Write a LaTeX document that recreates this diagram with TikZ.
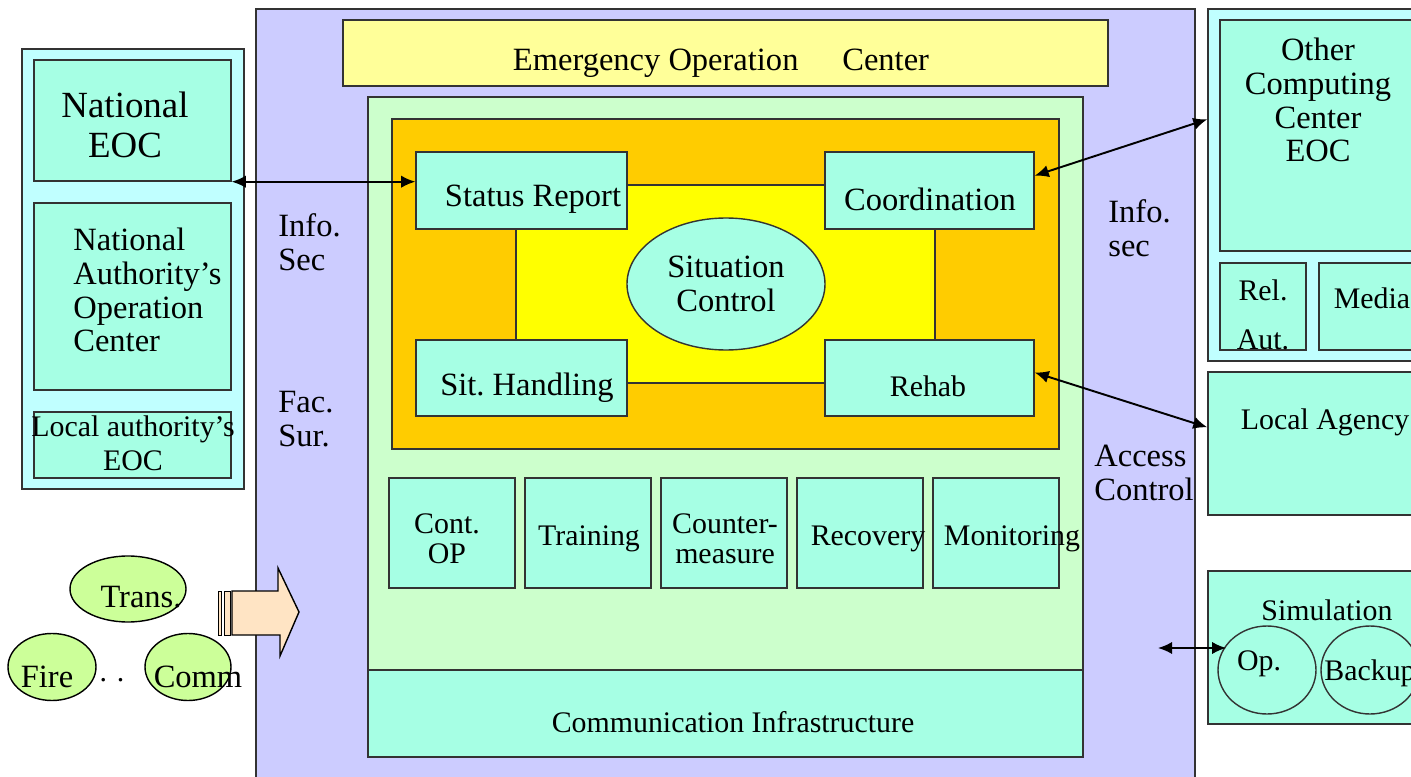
\documentclass[tikz,border=0pt]{standalone}
\usepackage{fontspec}
\setmainfont{Liberation Serif}
\usetikzlibrary{shapes.geometric,fit,arrows.meta}

\definecolor{aqua}{RGB}{166,255,228}
\definecolor{paleaqua}{RGB}{192,255,255}
\definecolor{lilac}{RGB}{204,204,255}
\definecolor{mint}{RGB}{204,255,204}
\definecolor{amber}{RGB}{255,204,0}
\definecolor{lemon}{RGB}{255,255,0}
\definecolor{cream}{RGB}{255,255,153}
\definecolor{lime}{RGB}{204,255,153}
\definecolor{peach}{RGB}{255,228,196}

\begin{document}
\begin{tikzpicture}[x=0.02cm,y=-0.02cm,
        every node/.style={inner sep=0pt,align=center,font=\fa},
        box/.style={draw=black!80,line width=0.8pt,fill=aqua},
        blob/.style={ellipse,draw,line width=0.8pt,fill=lime},
        link/.style={<->,>={Latex[length=8pt,width=7pt]},line width=1.1pt}]
        \def\fa{\fontsize{17}{19.3}\selectfont}
        \def\fb{\fontsize{18.5}{19.3}\selectfont}
        \def\fc{\fontsize{21}{22.7}\selectfont}
        \def\px{0.02cm}
        \useasboundingbox (0,0) rectangle (1411,777);

        % national side
        \node[box,fill=paleaqua,fit={(22,49)(244,489)}](natl){};
        \node[box,fit={(34,60)(231,181)}](nateoc){};
        \node[font=\fc](nateoctxt) at (125,125){National\\EOC};
        \node[box,fit={(34,203)(231,390)}](natauth){};
        \node[anchor=west,align=left,font=\fb](natauthtxt) at (73,290){National\\Authority's\\Operation\\Center};
        \node[box,fit={(34,412)(231,478)}](loceoc){};
        \node(loceoctxt) at (133,443){Local authority's\\EOC};

        % eoc
        \node[box,fill=lilac,fit={(256,9)(1195,800)}](eoc){};
        \node[box,fill=cream,fit={(343,20)(1108,86)}](title){};
        \node[font=\fb](titletxt) at (721,63){Emergency Operation\hspace{1.1em} Center};
        \node[box,fill=mint,fit={(368,97)(1083,670)}](core){};
        \node[box,fit={(368,670)(1083,757)}](comm){};
        \node(commtxt) at (733,722){Communication Infrastructure};
        \node[box,fill=amber,fit={(392,119)(1059,449)}](ops){};
        \node[box,fill=lemon,fit={(516,185)(935,383)}](loop){};
        \node[box,fit={(416,152)(627,229)}](status){};
        \node[font=\fb](statustxt) at (533,199){Status Report};
        \node[box,fit={(825,152)(1034,229)}](coord){};
        \node[font=\fb](coordtxt) at (930,199){Coordination};
        \node[box,fit={(416,340)(627,416)}](sithand){};
        \node[font=\fb](sithandtxt) at (527,388){Sit.\ Handling};
        \node[box,fit={(825,340)(1034,416)}](rehab){};
        \node(rehabtxt) at (928,386){Rehab};
        \node[box,ellipse,minimum width=198*\px,minimum height=132*\px,font=\fb](sitctrl) at (726,284){Situation\\Control};
        \foreach \x/\n/\tx/\lbl in {389/contop/447/{Cont.\\OP},525/training/589/Training,661/counter/725/{Counter-\\measure},797/recovery/868/Recovery,933/monitor/1012/Monitoring}{
          \node[box,fit={(\x,478)(\x+126,588)}](\n){};
          \node[font=\fontsize{17}{17}\selectfont](\n-txt) at (\tx,539){\lbl};
        }
        \node[anchor=west,align=left,font=\fb](infosec) at (278,242){Info.\\Sec};
        \node[anchor=west,align=left,font=\fb](facsur) at (278,419){Fac.\\Sur.};
        \node[anchor=west,align=left,font=\fb](infosecr) at (1108,228){Info.\\sec};
        \node[anchor=west,align=left,font=\fb](access) at (1094,473){Access\\Control};

        % other side
        \node[box,fill=paleaqua,fit={(1208,9)(1430,361)}](other){};
        \node[box,fit={(1220,20)(1430,251)}](othereoc){};
        \node[font=\fb](othertxt) at (1318,100){Other\\Computing\\Center\\EOC};
        \node[box,fit={(1220,263)(1306,350)}](relaut){};
        \node[font=\fontsize{17}{28}\selectfont](relauttxt) at (1263,315){Rel.\\Aut.};
        \node[box,fit={(1319,263)(1425,350)}](media){};
        \node(mediatxt) at (1372,298){Media};
        \node[box,fit={(1208,372)(1430,515)}](agency){};
        \node(agencytxt) at (1325,422){Local Agency};
        \node[box,fit={(1208,571)(1430,724)}](sim){};
        \node(simtxt) at (1327,610){Simulation};
        \node[box,ellipse,minimum width=98*\px,minimum height=88*\px](op) at (1267,670){};
        \node[box,ellipse,minimum width=98*\px,minimum height=88*\px](backup) at (1370,670){};
        \node(optxt) at (1259,664){Op.};
        \node(backuptxt) at (1370,673){Backup};

        % agencies
        \node[blob,minimum width=116*\px,minimum height=66*\px](trans) at (128,589){};
        \node[blob,minimum width=88*\px,minimum height=67*\px](fire) at (52,667){};
        \node[blob,minimum width=86*\px,minimum height=67*\px](commu) at (188,667){};
        \node[font=\fb](transtxt) at (141,597){Trans.};
        \node[font=\fb](firetxt) at (47,677){Fire};
        \node[font=\fb](commutxt) at (198,677){Comm};
        \node(dots) at (112,680){. .};
        \draw[line width=0.8pt,fill=peach] (232,591) -- (278,591) -- (278,568) -- (299,612) -- (280,656) -- (280,635) -- (232,635) -- cycle;
        \draw[line width=0.5pt,fill=peach] (218,591) rectangle (221,635) (224,591) rectangle (230,635);

        % links
        \draw[link] (nateoc.south east) -- (nateoc.south east -| status.west);
        \draw[link] (coord.8) -- ([yshift=-111*\px]other.north west);
        \draw[link] (rehab.3) -- ([yshift=-56*\px]agency.north west);
        \coordinate (simend) at (1158,648);
        \draw[link] (simend) -- (simend -| op.148);
\end{tikzpicture}
\end{document}
